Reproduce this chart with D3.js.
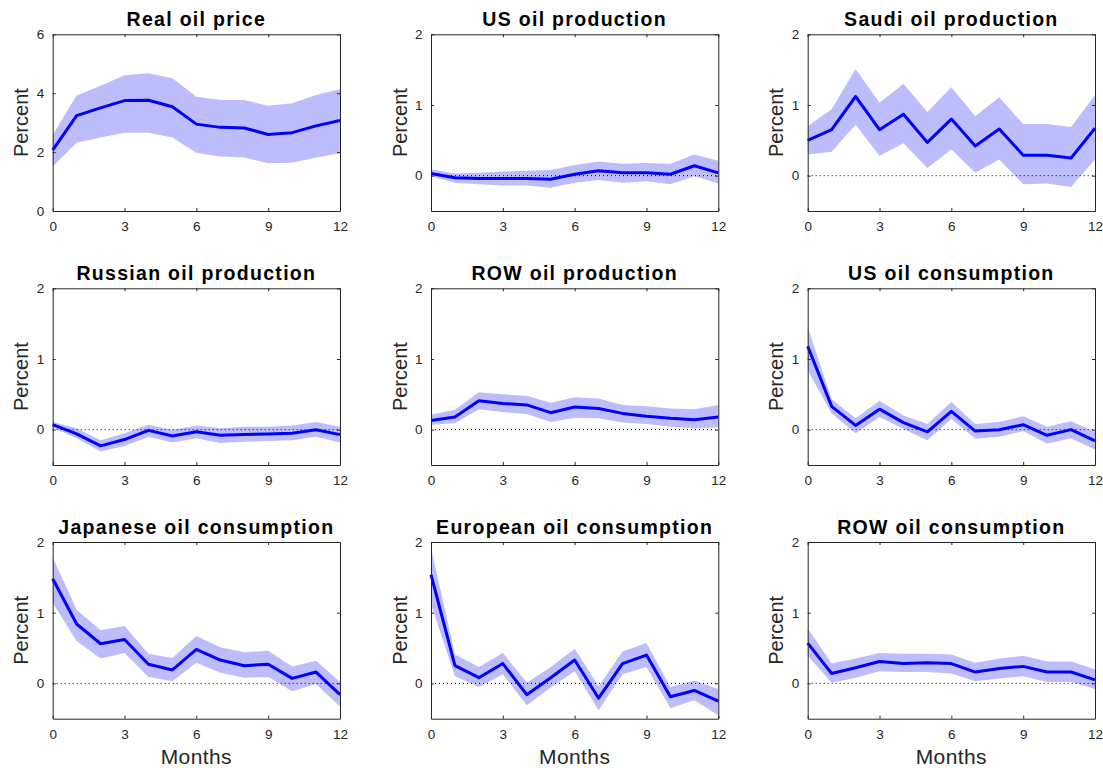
<!DOCTYPE html>
<html>
<head>
<meta charset="utf-8">
<script src="https://cdn.jsdelivr.net/npm/d3@7"></script>
<style>
  html, body { margin: 0; padding: 0; background: #ffffff; }
  svg { display: block; }
</style>
</head>
<body>
<svg id="chart" width="1103" height="768"></svg>
<script>
// Horizon in months after the shock
const months = [0, 1, 2, 3, 4, 5, 6, 7, 8, 9, 10, 11, 12];
const xTicks = [0, 3, 6, 9, 12];

const panelTitles = [
  "Real oil price", "US oil production", "Saudi oil production",
  "Russian oil production", "ROW oil production", "US oil consumption",
  "Japanese oil consumption", "European oil consumption", "ROW oil consumption"
];

// Impulse responses (percent): point estimate, upper and lower band
const realOilPrice      = [2.07, 3.24, 3.50, 3.75, 3.76, 3.54, 2.95, 2.84, 2.82, 2.60, 2.66, 2.89, 3.07];
const realOilPriceHi    = [2.58, 3.92, 4.25, 4.61, 4.68, 4.51, 3.88, 3.77, 3.77, 3.57, 3.66, 3.94, 4.13];
const realOilPriceLo    = [1.51, 2.32, 2.50, 2.66, 2.66, 2.50, 1.98, 1.85, 1.82, 1.62, 1.64, 1.82, 1.96];

const usProduction      = [0.03, -0.03, -0.04, -0.04, -0.04, -0.05, 0.02, 0.07, 0.04, 0.04, 0.02, 0.14, 0.04];
const usProductionHi    = [0.09, 0.03, 0.04, 0.06, 0.07, 0.08, 0.15, 0.20, 0.17, 0.18, 0.17, 0.30, 0.21];
const usProductionLo    = [-0.01, -0.10, -0.12, -0.14, -0.14, -0.17, -0.10, -0.06, -0.10, -0.08, -0.12, -0.01, -0.11];

const saudiProduction   = [0.50, 0.65, 1.12, 0.65, 0.87, 0.47, 0.80, 0.42, 0.66, 0.29, 0.29, 0.25, 0.67];
const saudiProductionHi = [0.70, 0.94, 1.51, 1.03, 1.30, 0.90, 1.25, 0.84, 1.11, 0.73, 0.73, 0.69, 1.14];
const saudiProductionLo = [0.30, 0.34, 0.72, 0.28, 0.46, 0.11, 0.37, 0.04, 0.23, -0.12, -0.11, -0.16, 0.23];

const russiaProduction   = [0.07, -0.06, -0.23, -0.14, -0.01, -0.09, -0.03, -0.08, -0.07, -0.06, -0.05, 0.00, -0.07];
const russiaProductionHi = [0.11, 0.02, -0.15, -0.05, 0.07, 0.00, 0.06, 0.02, 0.04, 0.04, 0.06, 0.11, 0.04];
const russiaProductionLo = [0.03, -0.12, -0.31, -0.23, -0.10, -0.18, -0.12, -0.19, -0.17, -0.16, -0.15, -0.10, -0.18];

const rowProduction     = [0.13, 0.18, 0.41, 0.37, 0.35, 0.24, 0.32, 0.30, 0.23, 0.19, 0.16, 0.14, 0.18];
const rowProductionHi   = [0.21, 0.28, 0.53, 0.50, 0.48, 0.38, 0.46, 0.44, 0.35, 0.33, 0.30, 0.29, 0.35];
const rowProductionLo   = [0.07, 0.09, 0.29, 0.25, 0.22, 0.11, 0.17, 0.16, 0.10, 0.08, 0.04, 0.02, 0.03];

const usConsumption     = [1.18, 0.33, 0.06, 0.29, 0.10, -0.03, 0.26, -0.02, 0.00, 0.07, -0.08, 0.00, -0.16];
const usConsumptionHi   = [1.45, 0.43, 0.16, 0.41, 0.20, 0.08, 0.39, 0.08, 0.11, 0.19, 0.04, 0.12, -0.03];
const usConsumptionLo   = [0.84, 0.23, -0.05, 0.18, 0.01, -0.15, 0.15, -0.13, -0.10, -0.02, -0.20, -0.12, -0.28];

const japanConsumption   = [1.48, 0.84, 0.56, 0.62, 0.27, 0.19, 0.48, 0.33, 0.25, 0.27, 0.07, 0.16, -0.16];
const japanConsumptionHi = [1.78, 1.04, 0.75, 0.81, 0.42, 0.36, 0.67, 0.51, 0.44, 0.46, 0.24, 0.32, 0.02];
const japanConsumptionLo = [1.14, 0.60, 0.35, 0.43, 0.09, 0.03, 0.29, 0.15, 0.08, 0.09, -0.11, -0.01, -0.33];

const europeConsumption   = [1.54, 0.25, 0.08, 0.28, -0.16, 0.08, 0.33, -0.21, 0.28, 0.40, -0.19, -0.10, -0.25];
const europeConsumptionHi = [1.92, 0.41, 0.23, 0.43, 0.01, 0.23, 0.49, -0.04, 0.45, 0.57, -0.05, 0.04, -0.08];
const europeConsumptionLo = [1.12, 0.10, -0.05, 0.13, -0.31, -0.06, 0.17, -0.38, 0.13, 0.23, -0.35, -0.24, -0.45];

const rowConsumption    = [0.57, 0.14, 0.22, 0.31, 0.28, 0.29, 0.28, 0.16, 0.21, 0.24, 0.16, 0.16, 0.05];
const rowConsumptionHi  = [0.78, 0.28, 0.35, 0.43, 0.42, 0.42, 0.41, 0.29, 0.35, 0.39, 0.31, 0.31, 0.20];
const rowConsumptionLo  = [0.39, 0.01, 0.08, 0.17, 0.16, 0.16, 0.14, 0.03, 0.07, 0.10, 0.02, 0.02, -0.08];

// Vertical ranges and tick marks
const priceDomain = [0, 6];
const priceTicks = [0, 2, 4, 6];
const quantityDomain = [-0.5, 2];
const quantityTicks = [0, 1, 2];

const panels = [
  { mid: realOilPrice, hi: realOilPriceHi, lo: realOilPriceLo, domain: priceDomain, ticks: priceTicks, zeroLine: false },
  { mid: usProduction, hi: usProductionHi, lo: usProductionLo, domain: quantityDomain, ticks: quantityTicks, zeroLine: true },
  { mid: saudiProduction, hi: saudiProductionHi, lo: saudiProductionLo, domain: quantityDomain, ticks: quantityTicks, zeroLine: true },
  { mid: russiaProduction, hi: russiaProductionHi, lo: russiaProductionLo, domain: quantityDomain, ticks: quantityTicks, zeroLine: true },
  { mid: rowProduction, hi: rowProductionHi, lo: rowProductionLo, domain: quantityDomain, ticks: quantityTicks, zeroLine: true },
  { mid: usConsumption, hi: usConsumptionHi, lo: usConsumptionLo, domain: quantityDomain, ticks: quantityTicks, zeroLine: true },
  { mid: japanConsumption, hi: japanConsumptionHi, lo: japanConsumptionLo, domain: quantityDomain, ticks: quantityTicks, zeroLine: true },
  { mid: europeConsumption, hi: europeConsumptionHi, lo: europeConsumptionLo, domain: quantityDomain, ticks: quantityTicks, zeroLine: true },
  { mid: rowConsumption, hi: rowConsumptionHi, lo: rowConsumptionLo, domain: quantityDomain, ticks: quantityTicks, zeroLine: true }
].map((p, i) => Object.assign(p, { title: panelTitles[i] }));

// Grid geometry
const colLeft = [52.7, 431, 807.7];
const rowTop = [34.3, 288.3, 542];
const plotW = 287.3;
const plotH = 176.7;
const tickLen = 3;
const axisColor = "#262626";
const fontFamily = "'Liberation Sans', Arial, Helvetica, sans-serif";

const svg = d3.select("#chart");

panels.forEach((p, i) => {
  const col = i % 3, row = Math.floor(i / 3);
  const g = svg.append("g").attr("transform", `translate(${colLeft[col]},${rowTop[row]})`);

  const x = d3.scaleLinear().domain([0, 12]).range([0, plotW]);
  const y = d3.scaleLinear().domain(p.domain).range([plotH, 0]);

  // Confidence band
  const band = d3.area()
    .x((d, k) => x(months[k]))
    .y0((d, k) => y(p.lo[k]))
    .y1((d, k) => y(p.hi[k]));
  g.append("path").datum(p.mid).attr("d", band).attr("fill", "#bdbdfb").attr("stroke", "none");

  // Zero reference
  if (p.zeroLine) {
    g.append("line")
      .attr("x1", 0).attr("x2", plotW).attr("y1", y(0)).attr("y2", y(0))
      .attr("stroke", "#000").attr("stroke-width", 1).attr("stroke-dasharray", "1,3");
  }

  // Point estimate
  const line = d3.line().x((d, k) => x(months[k])).y(d => y(d));
  g.append("path").datum(p.mid).attr("d", line)
    .attr("fill", "none").attr("stroke", "#0000ff").attr("stroke-width", 3).attr("stroke-linejoin", "round");

  // Boxed axes with inward ticks
  const fmt = d3.format("d");
  const bottom = g.append("g").attr("transform", `translate(0,${plotH})`)
    .call(d3.axisBottom(x).tickValues(xTicks).tickFormat(fmt).tickSizeInner(-tickLen).tickSizeOuter(0).tickPadding(10.7));
  const top = g.append("g")
    .call(d3.axisTop(x).tickValues(xTicks).tickSizeInner(-tickLen).tickSizeOuter(0).tickFormat(""));
  const left = g.append("g")
    .call(d3.axisLeft(y).tickValues(p.ticks).tickFormat(fmt).tickSizeInner(-tickLen).tickSizeOuter(0).tickPadding(8.4));
  const right = g.append("g").attr("transform", `translate(${plotW},0)`)
    .call(d3.axisRight(y).tickValues(p.ticks).tickSizeInner(-tickLen).tickSizeOuter(0).tickFormat(""));

  [bottom, top, left, right].forEach(a => {
    a.attr("font-family", fontFamily).attr("font-size", "13.5px");
    a.select(".domain").attr("stroke", axisColor).attr("stroke-width", 1);
    a.selectAll(".tick line").attr("stroke", axisColor).attr("stroke-width", 1);
    a.selectAll(".tick text").attr("fill", axisColor);
  });

  // Title
  g.append("text")
    .attr("x", plotW / 2).attr("y", -8.3).attr("text-anchor", "middle")
    .attr("font-family", fontFamily).attr("font-weight", "bold")
    .attr("font-size", "19.5px").attr("letter-spacing", "1.3px").attr("fill", "#000")
    .text(p.title);

  // Y label
  g.append("text")
    .attr("transform", `translate(-24.4,${plotH / 2}) rotate(-90)`)
    .attr("text-anchor", "middle").attr("font-family", fontFamily)
    .attr("font-size", "20px").attr("fill", axisColor)
    .text("Percent");

  // X label on bottom row
  if (row === 2) {
    g.append("text")
      .attr("x", plotW / 2).attr("y", plotH + 45).attr("text-anchor", "middle")
      .attr("font-family", fontFamily).attr("font-size", "21px")
      .attr("letter-spacing", "0.4px").attr("fill", axisColor)
      .text("Months");
  }
});
</script>
</body>
</html>
